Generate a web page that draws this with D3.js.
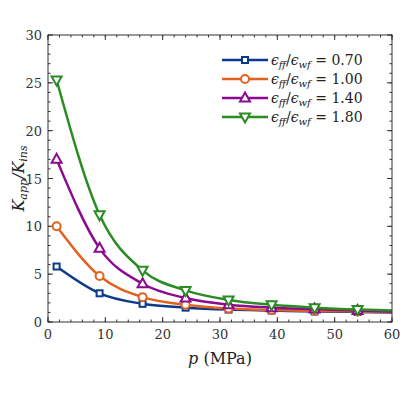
<!DOCTYPE html><html><head><script src="https://cdn.jsdelivr.net/npm/d3@7"></script>
<style>body{margin:0;background:#fff}svg text{font-family:'DejaVu Serif','Liberation Serif',serif}</style></head><body>
<svg id="c" width="400" height="400" font-family="DejaVu Serif"></svg>
<script>
const pX=[1.5,9,16.5,24,31.5,39,46.5,54,60];
const ratios=["0.70","1.00","1.40","1.80"];
const s070=[5.8,3.0,1.9,1.5,1.3,1.2,1.1,1.05,1.0];
const s100=[10.0,4.8,2.6,1.8,1.4,1.25,1.15,1.1,1.05];
const s140=[17.0,7.7,4.0,2.5,1.8,1.5,1.35,1.2,1.1];
const s180=[25.3,11.2,5.4,3.3,2.3,1.8,1.5,1.3,1.2];
const colors=["#0b3a8a","#e4621f","#8b0a8f","#2a8c22"];
const markers=["square","circle","up","down"];
const series=[s070,s100,s140,s180];
const svg=d3.select("#c");
const L=48,R=392,T=35,B=322;
const x=d3.scaleLinear([0,60],[L,R]),y=d3.scaleLinear([0,30],[B,T]);
const g=svg.append("g");
function ticks(vals,len,isX){vals.forEach(v=>{
 if(isX){[[B,B-len],[T,T+len]].forEach(([a,b])=>g.append("line").attr("x1",x(v)).attr("x2",x(v)).attr("y1",a).attr("y2",b).attr("stroke","#333"));}
 else{[[L,L+len],[R,R-len]].forEach(([a,b])=>g.append("line").attr("y1",y(v)).attr("y2",y(v)).attr("x1",a).attr("x2",b).attr("stroke","#333"));}
});}
ticks(d3.range(0,61,2),2.5,true);ticks(d3.range(0,61,10),5,true);
ticks(d3.range(0,31,1),2.5,false);ticks(d3.range(0,31,5),5,false);
d3.range(0,61,10).forEach(v=>svg.append("text").attr("x",x(v)).attr("y",B+17).attr("text-anchor","middle").attr("font-size",13).attr("fill","#333").text(v));
d3.range(0,31,5).forEach(v=>svg.append("text").attr("x",L-6).attr("y",y(v)+5).attr("text-anchor","end").attr("font-size",13).attr("fill","#333").text(v));
const ln=d3.line().x((d,i)=>x(pX[i])).y(d=>y(d)).curve(d3.curveMonotoneX);
function mark(sel,type,c){
 if(type=="square")sel.append("rect").attr("x",-3).attr("y",-3).attr("width",6).attr("height",6);
 else if(type=="circle")sel.append("circle").attr("r",4);
 else if(type=="up")sel.append("path").attr("d","M0,-5.5L5,3.5L-5,3.5Z");
 else sel.append("path").attr("d","M0,5.5L5,-3.5L-5,-3.5Z");
 sel.selectAll("*").attr("fill","#fff").attr("stroke",c).attr("stroke-width",2);
}
series.forEach((s,k)=>{
 svg.append("path").attr("d",ln(s)).attr("fill","none").attr("stroke",colors[k]).attr("stroke-width",2.5);
 s.slice(0,8).forEach((v,i)=>mark(svg.append("g").attr("transform",`translate(${x(pX[i])},${y(v)})`),markers[k],colors[k]));
});
svg.append("rect").attr("x",L).attr("y",T).attr("width",R-L).attr("height",B-T).attr("fill","none").attr("stroke","#333");
ratios.forEach((r,k)=>{
 const yy=60+k*19;
 svg.append("line").attr("x1",222).attr("x2",268).attr("y1",yy).attr("y2",yy).attr("stroke",colors[k]).attr("stroke-width",2.5);
 mark(svg.append("g").attr("transform",`translate(245,${yy})`),markers[k],colors[k]);
 const t=svg.append("text").attr("x",271).attr("y",yy+5).attr("font-size",14).attr("fill","#222");
 t.append("tspan").attr("font-style","italic").text("ϵ");
 t.append("tspan").attr("font-style","italic").attr("font-size",10).attr("dy",3).text("ff");
 t.append("tspan").attr("dy",-3).text("/");
 t.append("tspan").attr("font-style","italic").text("ϵ");
 t.append("tspan").attr("font-style","italic").attr("font-size",10).attr("dy",3).text("wf");
 t.append("tspan").attr("dy",-3).text(" = "+r);
});
const xl=svg.append("text").attr("x",220).attr("y",364).attr("text-anchor","middle").attr("font-size",16).attr("fill","#222");
xl.append("tspan").attr("font-style","italic").text("p");xl.append("tspan").text(" (MPa)");
const yl=svg.append("text").attr("transform",`translate(24,${(T+B)/2}) rotate(-90)`).attr("text-anchor","middle").attr("font-size",16).attr("fill","#222").attr("font-style","italic");
yl.append("tspan").text("K");yl.append("tspan").attr("font-size",11).attr("dy",3).text("app");
yl.append("tspan").attr("dy",-3).text("/K");yl.append("tspan").attr("font-size",11).attr("dy",3).text("ins");
</script></body></html>
